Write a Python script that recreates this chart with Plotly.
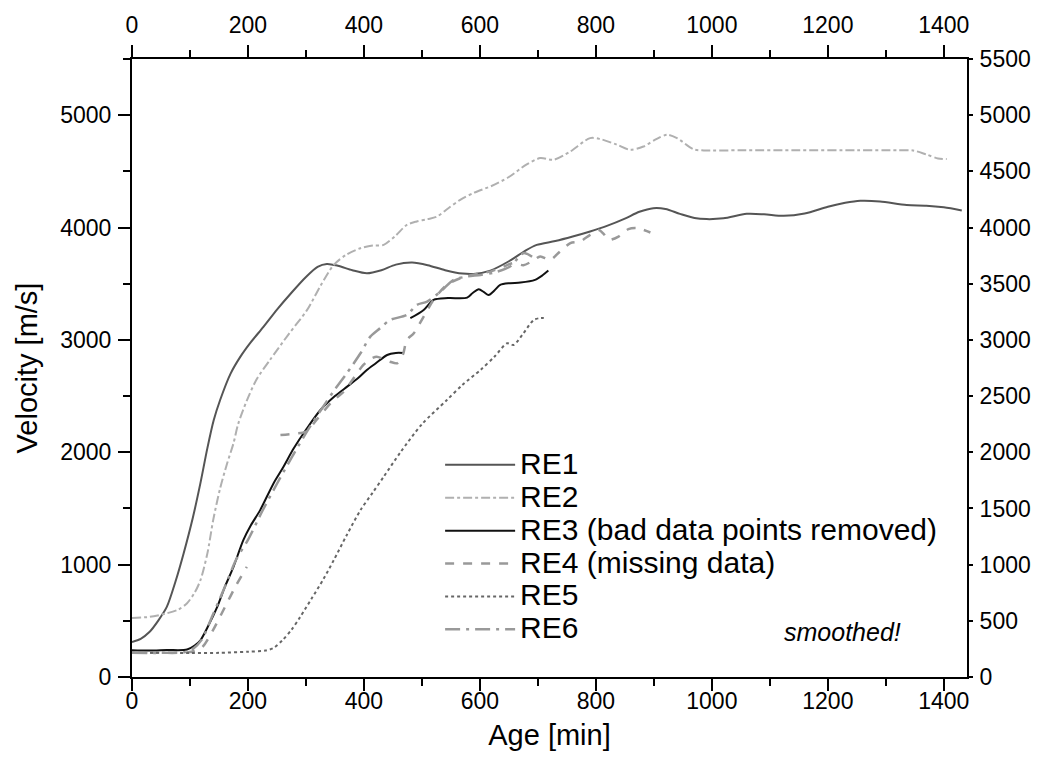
import plotly.graph_objects as go

# ---------------- data ----------------
re1_x = [0, 15, 30, 45, 60, 75, 89, 105, 118, 130, 141, 152, 170, 187, 205, 227, 250, 275, 300, 320, 336, 355, 380, 405, 430, 455, 483, 510, 540, 570, 589, 618, 650, 680, 698, 730, 760, 790, 819, 850, 875, 899, 920, 945, 970, 991, 1020, 1060, 1090, 1124, 1160, 1200, 1230, 1256, 1290, 1336, 1370, 1400, 1431]
re1_y = [312, 340, 400, 500, 624, 850, 1100, 1420, 1725, 2037, 2287, 2465, 2700, 2851, 2980, 3118, 3270, 3420, 3560, 3650, 3676, 3660, 3620, 3593, 3620, 3670, 3688, 3665, 3620, 3590, 3587, 3617, 3700, 3800, 3846, 3880, 3920, 3965, 4015, 4080, 4140, 4172, 4165, 4122, 4085, 4075, 4082, 4122, 4118, 4104, 4125, 4185, 4220, 4238, 4232, 4200, 4195, 4180, 4152]

re2_x = [0, 30, 60, 80, 95, 108, 118, 130, 140, 152, 164, 175, 183, 198, 215, 238, 270, 302, 325, 348, 370, 394, 415, 434, 455, 474, 491, 510, 526, 545, 566, 590, 620, 650, 680, 704, 727, 756, 790, 808, 835, 859, 882, 905, 923, 940, 968, 986, 1050, 1150, 1250, 1320, 1347, 1370, 1390, 1405]
re2_y = [526, 535, 567, 600, 657, 750, 861, 1100, 1396, 1680, 1900, 2080, 2250, 2460, 2650, 2822, 3050, 3267, 3480, 3668, 3760, 3816, 3840, 3846, 3930, 4024, 4054, 4075, 4098, 4170, 4247, 4310, 4370, 4450, 4560, 4618, 4603, 4677, 4796, 4787, 4740, 4692, 4721, 4790, 4826, 4796, 4698, 4686, 4688, 4688, 4688, 4688, 4686, 4650, 4615, 4609]

re3_x = [0, 30, 60, 95, 108, 118, 132, 147, 160, 175, 192, 205, 221, 244, 260, 279, 300, 325, 350, 371, 390, 405, 420, 440, 455, 468, None,
         480, 503, 520, 545, 578, 588, 598, 607, 615, 625, 635, 652, 670, 695, 708, 718]
re3_y = [238, 235, 240, 244, 280, 327, 460, 624, 800, 980, 1218, 1350, 1485, 1723, 1860, 2035, 2200, 2376, 2500, 2584, 2660, 2732, 2790, 2866, 2884, 2884, None,
         3193, 3267, 3356, 3372, 3376, 3420, 3451, 3425, 3400, 3440, 3490, 3505, 3510, 3534, 3575, 3617]

re4_x = [0, 40, 80, 100, 120, 140, 160, 180, 198, None,
         256, 280, 300, 320, 345, 365, 385, 399, 411, 422, 434, 445, 457, 463, 468, 474, 486, 503, 520, 543, 566, 589, 601, 618, 641, 658, 675, 690, 704, 721, 738, 756, 773, 790, 805, 814, 822, 839, 856, 871, 894]
re4_y = [217, 215, 218, 222, 260, 420, 620, 820, 980, None,
         2153, 2165, 2183, 2300, 2450, 2539, 2680, 2777, 2830, 2851, 2830, 2806, 2792, 2830, 2881, 3000, 3059, 3207, 3356, 3490, 3549, 3580, 3594, 3608, 3653, 3685, 3665, 3700, 3742, 3712, 3786, 3861, 3876, 3935, 3979, 3940, 3890, 3920, 3986, 3995, 3956]

re5_x = [0, 50, 100, 150, 200, 230, 244, 260, 275, 290, 310, 330, 348, 370, 394, 415, 434, 463, 500, 543, 570, 601, 625, 647, 658, 675, 693, 705, 713]
re5_y = [217, 215, 213, 215, 225, 235, 258, 330, 420, 534, 700, 870, 1040, 1260, 1485, 1640, 1782, 2000, 2250, 2465, 2600, 2733, 2850, 2970, 2955, 3059, 3178, 3195, 3193]

re6_x = [0, 50, 90, 105, 120, 140, 160, 180, 200, 225, 250, 275, 300, 325, 350, 370, 394, 411, 428, 445, 474, 491, 509, 532, 555, 578, 601, 625, 652, 675, 690]
re6_y = [215, 215, 220, 250, 330, 560, 800, 1050, 1220, 1480, 1720, 1950, 2170, 2370, 2560, 2700, 2881, 3029, 3104, 3178, 3222, 3311, 3341, 3430, 3534, 3564, 3578, 3600, 3653, 3772, 3740]

names = ["RE1", "RE2", "RE3 (bad data points removed)", "RE4 (missing data)", "RE5", "RE6"]
x_ticks = [0, 200, 400, 600, 800, 1000, 1200, 1400]
y_ticks_left = [0, 1000, 2000, 3000, 4000, 5000]
y_ticks_right = [0, 500, 1000, 1500, 2000, 2500, 3000, 3500, 4000, 4500, 5000, 5500]

# ---------------- figure ----------------
FONT = "Liberation Sans, Arial, sans-serif"
styles = [
    dict(color="#555555", width=2, dash="solid"),
    dict(color="#b0b0b0", width=2, dash="dashdot"),
    dict(color="#111111", width=2, dash="solid"),
    dict(color="#999999", width=2.5, dash="dash"),
    dict(color="#666666", width=2, dash="dot"),
    dict(color="#999999", width=2.5, dash="longdashdot"),
]
series = [(re1_x, re1_y), (re2_x, re2_y), (re3_x, re3_y), (re4_x, re4_y), (re5_x, re5_y), (re6_x, re6_y)]

fig = go.Figure()
for (xs, ys), nm, st in zip(series, names, styles):
    fig.add_trace(go.Scatter(x=xs, y=ys, name='<span style="font-size:30px">' + nm + '</span>',
                             mode="lines",
                             line=dict(shape="spline", smoothing=0.8, **st),
                             connectgaps=False))

# invisible trace so the secondary axes are drawn
fig.add_trace(go.Scatter(x=[0], y=[0], xaxis="x2", yaxis="y2", mode="lines",
                         showlegend=False, hoverinfo="skip", line=dict(width=0)))

axis_common = dict(showline=True, linecolor="black", linewidth=2, showgrid=False,
                   zeroline=False, ticks="outside", tickcolor="black", tickwidth=2,
                   automargin=False,
                   tickfont=dict(family=FONT, size=23, color="black"))
minor_x = dict(dtick=100, tick0=0, ticklen=7, tickwidth=2, ticks="outside", tickcolor="black")

fig.update_layout(
    width=1031, height=762,
    paper_bgcolor="white", plot_bgcolor="white",
    margin=dict(l=124, r=72, t=51, b=93),
    font=dict(family=FONT, color="black"),
    xaxis=dict(range=[0, 1440], tickvals=x_ticks, ticklen=12, minor=minor_x, ticklabelstandoff=-10,
               title=dict(text="Age [min]", font=dict(family=FONT, size=29), standoff=12),
               **axis_common),
    xaxis2=dict(range=[0, 1440], tickvals=x_ticks, ticklen=12, overlaying="x", side="top", anchor="y",
                minor=minor_x, ticklabelstandoff=3, **axis_common),
    yaxis=dict(range=[0, 5500], tickvals=y_ticks_left, ticklen=12, ticklabelstandoff=2,
               minor=dict(dtick=500, tick0=0, ticklen=7, tickwidth=2, ticks="outside", tickcolor="black"),
               title=dict(text="Velocity [m/s]", font=dict(family=FONT, size=29), standoff=14),
               **axis_common),
    yaxis2=dict(range=[0, 5500], tickvals=y_ticks_right, ticklen=4, overlaying="y", side="right", anchor="x",
                ticklabelstandoff=2, **axis_common),
    legend=dict(x=0.369, y=0.378, xanchor="left", yanchor="top", bgcolor="rgba(0,0,0,0)",
                font=dict(family=FONT, size=23, color="black"), itemwidth=70, tracegroupgap=0),
    showlegend=True,
)

fig.add_annotation(x=1225, y=398, xref="x", yref="y", text="<i>smoothed!</i>", showarrow=False,
                   font=dict(family=FONT, size=25, color="black"))

fig.write_html("out.html")
